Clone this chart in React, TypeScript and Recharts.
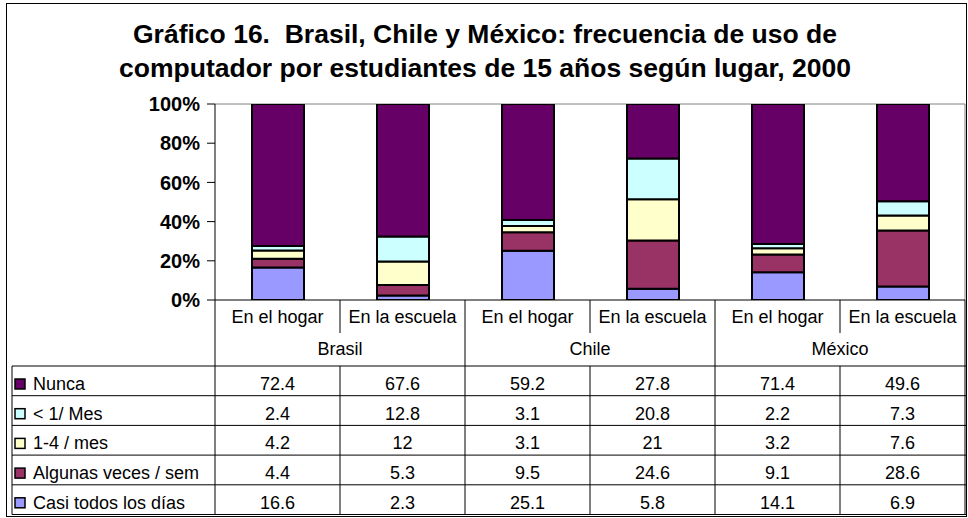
import React from 'react';
import { BarChart, Bar, XAxis, YAxis, CartesianGrid } from 'recharts';

const categories = ['En el hogar', 'En la escuela', 'En el hogar', 'En la escuela', 'En el hogar', 'En la escuela'];
const countries = ['Brasil', 'Chile', 'México'];

const nunca = [72.4, 67.6, 59.2, 27.8, 71.4, 49.6];
const menosUnoMes = [2.4, 12.8, 3.1, 20.8, 2.2, 7.3];
const unoCuatroMes = [4.2, 12, 3.1, 21, 3.2, 7.6];
const algunasSem = [4.4, 5.3, 9.5, 24.6, 9.1, 28.6];
const casiTodos = [16.6, 2.3, 25.1, 5.8, 14.1, 6.9];

const yTicks = [0, 0.2, 0.4, 0.6, 0.8, 1];

// table order, top to bottom (bars stack the other way round)
const series = [
  { key: 'nunca', label: 'Nunca', color: '#660066', values: nunca },
  { key: 'menos1', label: '< 1/ Mes', color: '#CCFFFF', values: menosUnoMes },
  { key: 'uno4', label: '1-4 / mes', color: '#FFFFCC', values: unoCuatroMes },
  { key: 'algunas', label: 'Algunas veces / sem', color: '#993366', values: algunasSem },
  { key: 'casi', label: 'Casi todos los días', color: '#9999FF', values: casiTodos },
];

const data = categories.map((cat, i) => {
  const row: any = { id: 'c' + i, cat };
  series.forEach(s => { row[s.key] = s.values[i]; });
  return row;
});

const W = 968;
const H = 518;
const PLOT_LEFT = 215;
const PLOT_RIGHT = 965;
const BAND = (PLOT_RIGHT - PLOT_LEFT) / categories.length;
const TABLE_LEFT = 12;
const ROW_H = 29.7;
const FONT = '"Liberation Sans", Arial, sans-serif';

const TableTick = (props: any) => {
  const { x, y } = props;
  const i = props.payload?.index ?? props.index;
  const left = x - BAND / 2;
  const right = x + BAND / 2;
  const rowsTop = y + 66;
  const bottom = rowsTop + series.length * ROW_H;
  const isPairEnd = i % 2 === 1;

  return (
    <g fontFamily={FONT} fill="#000">
      <text x={x} y={y + 23} textAnchor="middle" fontSize={18}>{categories[i]}</text>
      <line x1={right} y1={y} x2={right} y2={isPairEnd ? bottom : y + 33} stroke="#000" />
      {!isPairEnd && <line x1={right} y1={rowsTop} x2={right} y2={bottom} stroke="#000" />}
      {isPairEnd && (
        <text x={left} y={y + 55} textAnchor="middle" fontSize={18}>{countries[(i - 1) / 2]}</text>
      )}
      {series.map((s, r) => (
        <text key={s.key} x={x} y={rowsTop + r * ROW_H + 24} textAnchor="middle" fontSize={18}>
          {s.values[i]}
        </text>
      ))}
      {i === 0 && (
        <g>
          <line x1={left} y1={y} x2={left} y2={bottom} stroke="#000" />
          <line x1={TABLE_LEFT} y1={rowsTop} x2={TABLE_LEFT} y2={bottom} stroke="#000" />
          {series.map((s, r) => (
            <line key={'h' + r} x1={TABLE_LEFT} y1={rowsTop + r * ROW_H} x2={PLOT_RIGHT + 1} y2={rowsTop + r * ROW_H} stroke="#000" />
          ))}
          <line x1={TABLE_LEFT} y1={bottom} x2={PLOT_RIGHT + 1} y2={bottom} stroke="#000" />
          {series.map((s, r) => (
            <g key={'l' + r}>
              <rect x={15} y={rowsTop + r * ROW_H + 13} width={10} height={10} fill={s.color} stroke="#000" strokeWidth={1.5} />
              <text x={33} y={rowsTop + r * ROW_H + 24} fontSize={18}>{s.label}</text>
            </g>
          ))}
        </g>
      )}
    </g>
  );
};

export default function App() {
  return (
    <div style={{ position: 'absolute', left: 0, top: 0, width: W, height: H, background: '#fff' }}>
      <BarChart
        width={W}
        height={H}
        data={data}
        stackOffset="expand"
        margin={{ top: 104, right: W - PLOT_RIGHT, left: PLOT_LEFT - 80, bottom: 0 }}
      >
        <CartesianGrid
          stroke="#808080"
          horizontalCoordinatesGenerator={({ offset }: any) => [offset.top]}
          verticalCoordinatesGenerator={({ offset }: any) => [offset.left + offset.width]}
        />
        <XAxis
          dataKey="id"
          height={H - 300}
          tickSize={0}
          tickMargin={0}
          tickLine={false}
          axisLine={{ stroke: '#000' }}
          interval={0}
          tick={<TableTick />}
        />
        <YAxis
          width={80}
          domain={[0, 1]}
          ticks={yTicks}
          allowDataOverflow
          tickSize={8}
          tickMargin={7}
          axisLine={{ stroke: '#000' }}
          tickLine={{ stroke: '#000' }}
          tick={{ fill: '#000', fontSize: 20, fontWeight: 'bold', fontFamily: FONT }}
          tickFormatter={(v: number) => `${Math.round(v * 100)}%`}
        />
        {[...series].reverse().map(s => (
          <Bar
            key={s.key}
            dataKey={s.key}
            stackId="a"
            fill={s.color}
            stroke="#000"
            strokeWidth={2}
            barSize={52}
            isAnimationActive={false}
          />
        ))}
      </BarChart>
      <svg width={W} height={H} style={{ position: 'absolute', left: 0, top: 0, pointerEvents: 'none' }}>
        <rect x={6.5} y={3.5} width={960} height={513} fill="none" stroke="#000" />
        <g fontFamily={FONT} fontWeight="bold" fontSize={26.5} textAnchor="middle" fill="#000">
          <text x={485} y={43} xmlSpace="preserve">Gráfico 16.  Brasil, Chile y México: frecuencia de uso de</text>
          <text x={485} y={77}>computador por estudiantes de 15 años según lugar, 2000</text>
        </g>
      </svg>
    </div>
  );
}
